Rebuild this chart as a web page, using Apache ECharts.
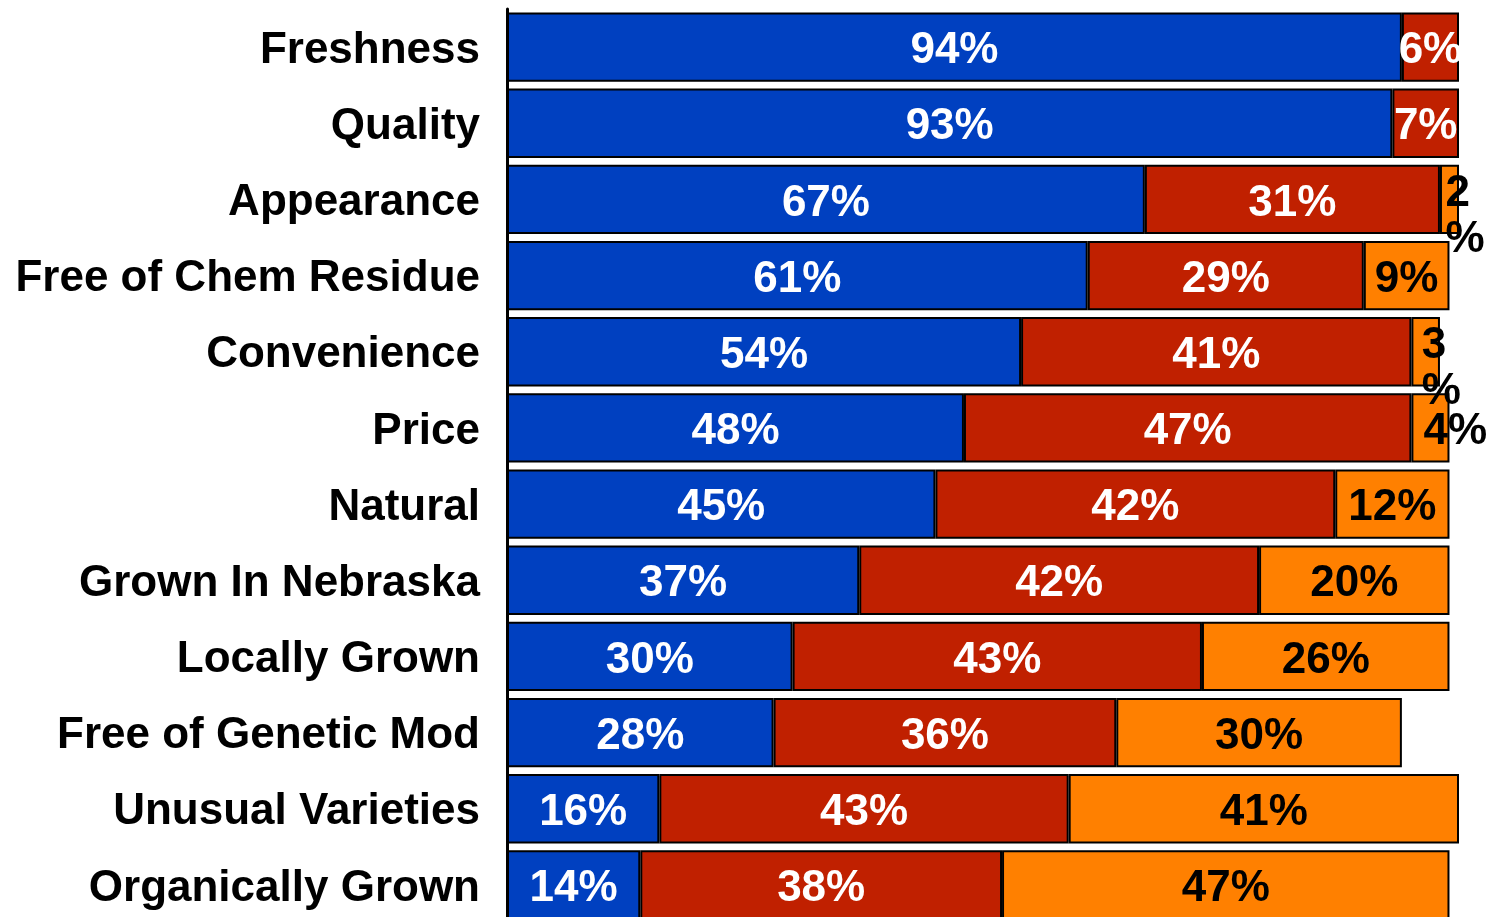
<!DOCTYPE html>
<html>
<head>
<meta charset="utf-8">
<style>
html,body{margin:0;padding:0;background:#fff;overflow:hidden;}
#chart{width:1486px;height:923px;}
</style>
<script src="https://cdn.jsdelivr.net/npm/echarts@6/dist/echarts.min.js"></script>
</head>
<body>
<div id="chart"></div>
<script>
const categories = ['Freshness','Quality','Appearance','Free of Chem Residue','Convenience','Price','Natural','Grown In Nebraska','Locally Grown','Free of Genetic Mod','Unusual Varieties','Organically Grown'];
const blueValues   = [94, 93, 67, 61, 54, 48, 45, 37, 30, 28, 16, 14];
const redValues    = [6, 7, 31, 29, 41, 47, 42, 42, 43, 36, 43, 38];
const orangeValues = [0, 0, 2, 9, 3, 4, 12, 20, 26, 30, 41, 47];

const FONT = "'Liberation Sans', Arial, Helvetica, sans-serif";

function buildData(values) {
  return values.map(v => {
    if (v === 0) return null;
    if (v < 4) {
      return { value: v, label: { formatter: v + '\n%', align: 'left', lineHeight: 46, offset: [-4, 17] } };
    }
    if (v === 4) {
      return { value: v, label: { align: 'left', offset: [-7, 4] } };
    }
    return v;
  });
}

function series(name, values, color, textColor) {
  return {
    name: name,
    type: 'bar',
    stack: 'total',
    barCategoryGap: '9%',
    data: buildData(values),
    itemStyle: { color: color, borderColor: '#000', borderWidth: 2 },
    label: {
      show: true,
      position: 'inside',
      offset: [0, 4],
      formatter: p => p.value + '%',
      color: textColor,
      fontFamily: FONT,
      fontWeight: 'bold',
      fontSize: 44
    },
    emphasis: { disabled: true },
    animation: false
  };
}

const chart = echarts.init(document.getElementById('chart'), null, { renderer: 'canvas' });
chart.setOption({
  backgroundColor: '#fff',
  animation: false,
  grid: { left: 507, right: 27, top: 9, bottom: 0, containLabel: false },
  xAxis: { type: 'value', min: 0, max: 100, show: false },
  yAxis: {
    type: 'category',
    inverse: true,
    data: categories,
    axisLine: { show: true, lineStyle: { color: '#000', width: 3 } },
    axisTick: { show: false },
    axisLabel: {
      color: '#000', fontFamily: FONT, fontWeight: 'bold', fontSize: 44, margin: 27,
      formatter: v => '{a|' + v + '}',
      rich: { a: { color: '#000', fontFamily: FONT, fontWeight: 'bold', fontSize: 44, lineHeight: 50, padding: [7, 0, 0, 0] } }
    }
  },
  series: [
    series('blue', blueValues, '#0040C0', '#fff'),
    series('red', redValues, '#C02000', '#fff'),
    series('orange', orangeValues, '#FF8000', '#000')
  ]
});
</script>
</body>
</html>
